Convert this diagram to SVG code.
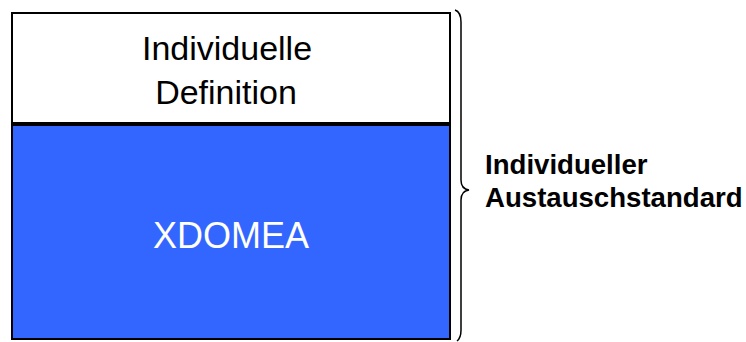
<svg xmlns="http://www.w3.org/2000/svg" width="746" height="342" viewBox="0 0 746 342">
  <style>
    .box { stroke: #000; stroke-width: 2; }
    .title { font-family: "Liberation Sans", Arial, sans-serif; font-size: 34px; text-anchor: middle; }
    .label { font-family: "Liberation Sans", Arial, sans-serif; font-size: 27.6px; font-weight: bold; fill: #000; }
  </style>
  <rect width="746" height="342" fill="#fff"/>
  <g id="definition">
    <rect class="box" x="12" y="13" width="438" height="110" fill="#fff"/>
    <text class="title" x="227" y="60" fill="#000">Individuelle</text>
    <text class="title" x="226" y="104" fill="#000">Definition</text>
  </g>
  <g id="xdomea">
    <rect class="box" x="12" y="125" width="438" height="214" fill="#3366ff"/>
    <text class="title" x="231" y="248" fill="#fff" style="font-size:36px">XDOMEA</text>
  </g>
  <g id="connectors">
    <path d="M455,10 Q461,12 461,22 L461,180 Q461,189 469,190 Q461,191 461,200 L461,330 Q461,338 457,341" fill="none" stroke="#000" stroke-width="1.5"/>
  </g>
  <g id="standard">
    <text class="label" x="485" y="174">Individueller</text>
    <text class="label" x="485" y="207">Austauschstandard</text>
  </g>
</svg>
